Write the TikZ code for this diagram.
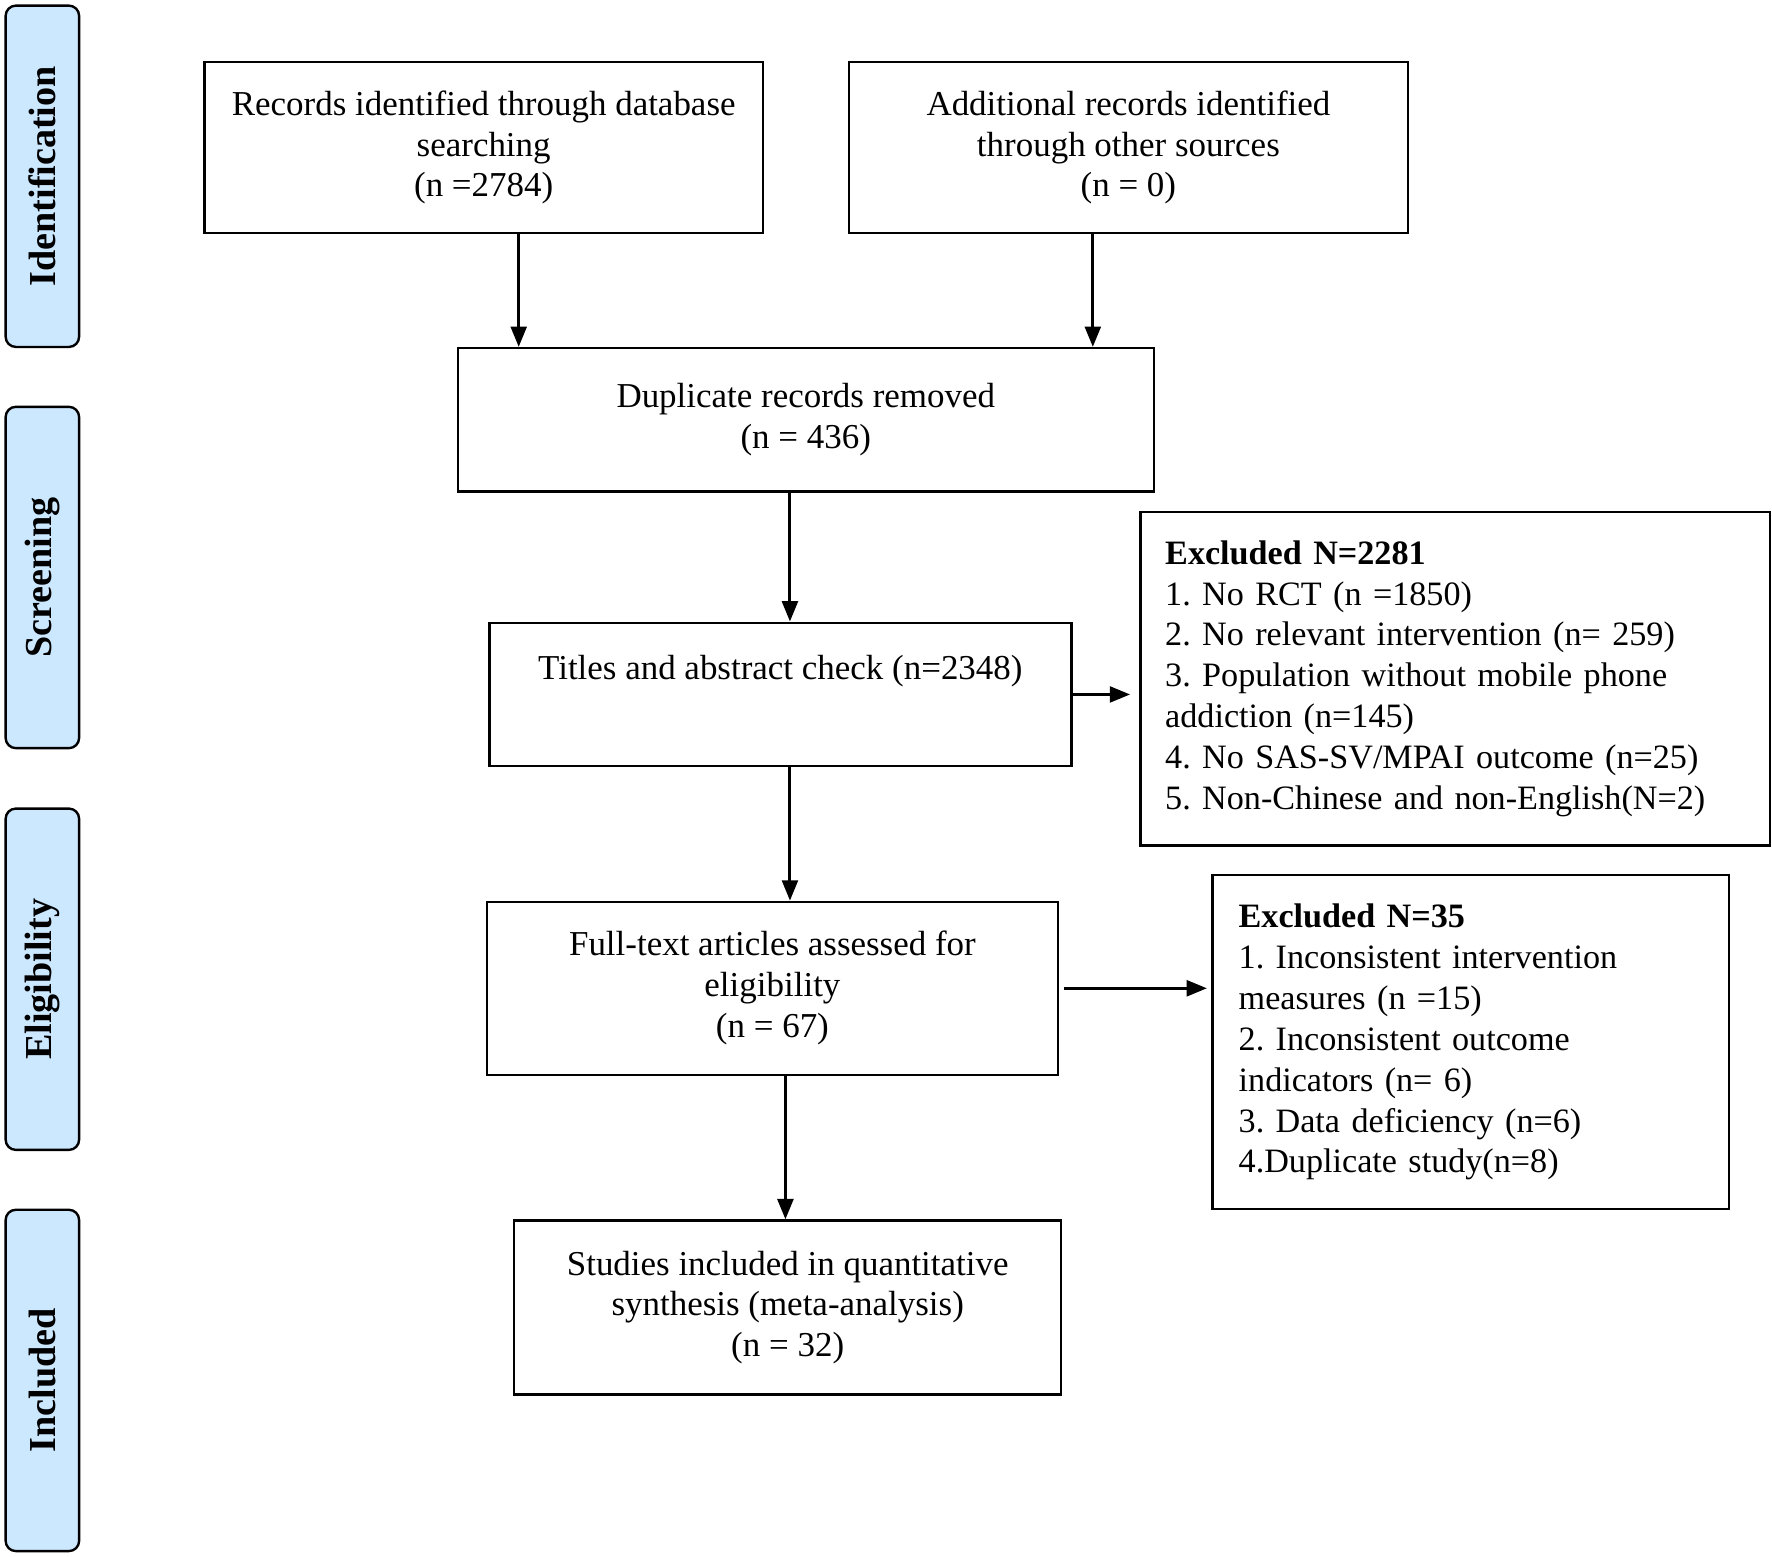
\documentclass[tikz,border=0pt]{standalone}
\usepackage{fontspec}
\setmainfont{Liberation Serif}
\usetikzlibrary{arrows.meta}
\definecolor{stageblue}{RGB}{204,232,255}
\frenchspacing
\begin{document}
\begin{tikzpicture}[
  x=1cm, y=1cm,
  font=\fontsize{8.8}{10.3}\selectfont,
  flowbox/.style={draw, line width=0.6pt, align=center, inner sep=0pt},
  exclbox/.style={draw, line width=0.6pt, align=left, anchor=north west, inner ysep=0pt,
    font=\fontsize{8.6}{10.3}\selectfont},
  stagebox/.style={draw, line width=0.6pt, fill=stageblue, rounded corners=0.09cm,
    minimum width=0.65cm, minimum height=3.02cm, inner sep=0pt},
  arr/.style={-{Triangle[length=0.18cm,width=0.14cm]}, line width=0.75pt}
]
  \useasboundingbox (0,0) rectangle (15.68,-13.77);

  % Stage labels on the left
  \foreach \name/\lab/\yc in {ident/Identification/1.56, screen/Screening/5.11,
                              elig/Eligibility/8.665, incl/Included/12.215} {
    \node[stagebox] (\name) at (0.375,-\yc) {};
    \node[rotate=90, font=\fontsize{9.6}{11}\selectfont\bfseries] (\name-t) at (\name) {\lab};
  }

  % Identification
  \node[flowbox, minimum width=4.94cm, minimum height=1.51cm] (rec) at (4.28,-1.305)
    {Records identified through database\\searching\\(n =2784)};
  \node[flowbox, minimum width=4.95cm, minimum height=1.51cm] (add) at (9.985,-1.305)
    {Additional records identified\\through other sources\\(n = 0)};

  % Screening
  \node[flowbox, minimum width=6.16cm, minimum height=1.27cm] (dup) at (7.13,-3.715)
    {Duplicate records removed\\(n = 436)};
  \node[flowbox, minimum width=5.15cm, minimum height=1.27cm] (title) at (6.905,-6.145)
    {Titles and abstract check (n=2348)\\\strut};
  \node[exclbox, minimum width=5.57cm, minimum height=2.95cm, inner xsep=0.22cm,
        text width=5.13cm] (excl1) at (10.08,-4.52)
    {\textbf{Excluded N=2281}\\
     1. No RCT (n =1850)\\
     2. No relevant intervention (n= 259)\\
     3. Population without mobile phone\\
     addiction (n=145)\\
     4. No SAS-SV/MPAI outcome (n=25)\\
     5. Non-Chinese and non-English(N=2)};

  % Eligibility
  \node[flowbox, minimum width=5.05cm, minimum height=1.53cm] (full) at (6.835,-8.745)
    {Full-text articles assessed for\\eligibility\\(n = 67)};
  \node[exclbox, minimum width=4.57cm, minimum height=2.96cm, inner xsep=0.23cm,
        text width=4.11cm] (excl2) at (10.72,-7.73)
    {\textbf{Excluded N=35}\\
     1. Inconsistent intervention\\
     measures (n =15)\\
     2. Inconsistent outcome\\
     indicators (n= 6)\\
     3. Data deficiency (n=6)\\
     4.Duplicate study(n=8)};

  % Included
  \node[flowbox, minimum width=4.84cm, minimum height=1.54cm] (study) at (6.97,-11.57)
    {Studies included in quantitative\\synthesis (meta-analysis)\\(n = 32)};

  % Connectors
  \coordinate (recx) at (4.59,0);
  \coordinate (addx) at (9.67,0);
  \coordinate (midx) at (6.99,0);
  \coordinate (lowx) at (6.95,0);
  \draw[arr] (rec.south -| recx) -- (dup.north -| recx);
  \draw[arr] (add.south -| addx) -- (dup.north -| addx);
  \draw[arr] (dup.south -| midx) -- (title.north -| midx);
  \draw[arr] (title.south -| midx) -- (full.north -| midx);
  \draw[arr] (full.south -| lowx) -- (study.north -| lowx);
  \draw[arr, shorten >=0.08cm] (title.east) -- (title.east -| excl1.west);
  \draw[arr, shorten <=0.04cm, shorten >=0.04cm] (full.east) -- (full.east -| excl2.west);
\end{tikzpicture}
\end{document}
